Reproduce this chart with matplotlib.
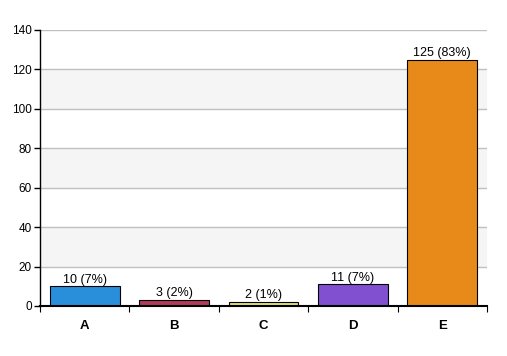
import matplotlib.pyplot as plt
import numpy as np

plt.rcParams["font.family"] = ["Liberation Sans", "DejaVu Sans"]

categories = ["A", "B", "C", "D", "E"]
counts = [10, 3, 2, 11, 125]
percents = [7, 2, 1, 7, 83]
colors = ["#2a8fdb", "#b23a5c", "#e4e070", "#8150d0", "#e88a1a"]

fig = plt.figure(figsize=(5.07, 3.56), dpi=100)
ax = fig.add_axes([40 / 507, 1 - 306 / 356, 447 / 507, 276 / 356])

x = np.arange(len(categories))
ax.set_xlim(-0.5, len(categories) - 0.5)
ax.set_ylim(0, 140)

# alternating bands
for lo in range(20, 140, 40):
    ax.axhspan(lo, lo + 20, color="#f5f5f5", zorder=0)
for y in range(20, 141, 20):
    ax.axhline(y, color="#c0c0c0", linewidth=1, zorder=1)

ax.bar(x, counts, width=0.78, color=colors, edgecolor="black", linewidth=0.8, zorder=2)
for xi, c, p in zip(x, counts, percents):
    ax.text(xi, c + 0.3, f"{c} ({p}%)", ha="center", va="bottom", fontsize=9, zorder=3)

ax.set_yticks(range(0, 141, 20))
ax.tick_params(axis="y", labelsize=8.5, length=4, width=1, pad=2)
ax.set_xticks(np.arange(-0.5, len(categories), 1))
ax.set_xticklabels([])
ax.tick_params(axis="x", length=4, width=0.8, direction="out")
for xi, cat in zip(x, categories):
    ax.text(xi, -0.05, cat, transform=ax.get_xaxis_transform(), ha="center", va="top",
            fontsize=9.5, fontweight="bold")

for s in ["top", "right"]:
    ax.spines[s].set_visible(False)
ax.spines["left"].set_linewidth(1)
ax.spines["bottom"].set_linewidth(1.5)

plt.savefig("out.png", dpi=100)
